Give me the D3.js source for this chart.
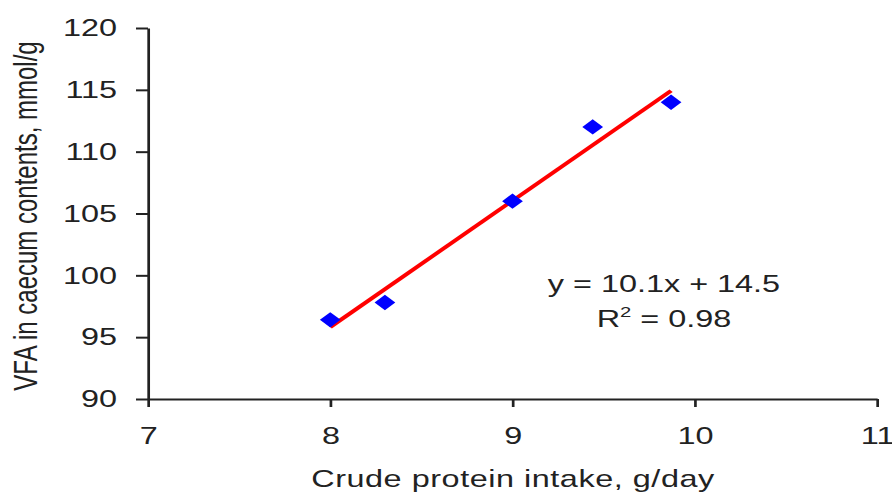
<!DOCTYPE html>
<html>
<head>
<meta charset="utf-8">
<script src="https://cdn.jsdelivr.net/npm/d3@7"></script>
<style>
  body { margin: 0; background: #fff; }
  text { font-family: "Liberation Sans", Arial, sans-serif; fill: #222; }
</style>
</head>
<body>
<div id="chart"></div>
<script>
// data
var cpIntake = [8.0, 8.3, 9.0, 9.44, 9.87];      // crude protein intake, g/day
var vfaConc = [96.4, 97.8, 106.0, 112.0, 114.0];  // VFA in caecum, mmol/g
var xTicks = [7, 8, 9, 10, 11];
var yTicks = [90, 95, 100, 105, 110, 115, 120];
var eqLabel = "y = 10.1x + 14.5";
var r2Label = "0.98";

var svgWidth = 892;
var svgHeight = 492;
// the original picture is stretched sideways, so draw everything in a squeezed group
var sx = 1.35;

var svg = d3.select("#chart")
  .append("svg")
  .attr("width", svgWidth)
  .attr("height", svgHeight);

var chartGroup = svg.append("g")
  .attr("transform", `scale(${sx}, 1)`);

// scales (screen positions divided by sx for x)
var xScale = d3.scaleLinear()
  .domain([7, 11])
  .range([148 / sx, 877 / sx]);

var yScale = d3.scaleLinear()
  .domain([90, 120])
  .range([399, 28]);

var bottomAxis = d3.axisBottom(xScale)
  .tickValues(xTicks)
  .tickSizeInner(8)
  .tickSizeOuter(0)
  .tickPadding(20)
  .tickFormat(d3.format("d"));

var leftAxis = d3.axisLeft(yScale)
  .tickValues(yTicks)
  .tickSizeInner(12 / sx)
  .tickSizeOuter(0)
  .tickPadding(19 / sx)
  .tickFormat(d3.format("d"));

var xAxis = chartGroup.append("g")
  .attr("transform", `translate(0, ${yScale(90)})`)
  .call(bottomAxis);

var yAxis = chartGroup.append("g")
  .attr("transform", `translate(${xScale(7)}, 0)`)
  .call(leftAxis);

[xAxis, yAxis].forEach(function (ax) {
  ax.select(".domain").attr("stroke", "#222").attr("stroke-width", 2);
  ax.selectAll(".tick line").attr("stroke", "#222").attr("stroke-width", 2);
  ax.selectAll(".tick text")
    .attr("font-size", 24)
    .attr("fill", "#222")
    .style("font-family", "'Liberation Sans', Arial, sans-serif");
});

// least squares trendline
var mx = d3.mean(cpIntake), my = d3.mean(vfaConc);
var sxy = d3.sum(cpIntake, (x, i) => (x - mx) * (vfaConc[i] - my));
var sxx = d3.sum(cpIntake, x => (x - mx) * (x - mx));
var slope = sxy / sxx;
var intercept = my - slope * mx;
var xExt = d3.extent(cpIntake);

chartGroup.append("line")
  .attr("x1", xScale(xExt[0]))
  .attr("y1", yScale(slope * xExt[0] + intercept))
  .attr("x2", xScale(xExt[1]))
  .attr("y2", yScale(slope * xExt[1] + intercept))
  .attr("stroke", "#ff0000")
  .attr("stroke-width", 3.5);

// diamond markers
var diamond = d3.symbol().type(d3.symbolSquare).size(118);
chartGroup.selectAll(".pt")
  .data(cpIntake)
  .enter()
  .append("path")
  .attr("class", "pt")
  .attr("d", diamond)
  .attr("transform", (d, i) => `translate(${xScale(d)}, ${yScale(vfaConc[i])}) rotate(45)`)
  .attr("fill", "#0000ff");

// equation text
chartGroup.append("text")
  .attr("x", 664 / sx)
  .attr("y", 292)
  .attr("text-anchor", "middle")
  .attr("font-size", 24)
  .text(eqLabel);

var r2 = chartGroup.append("text")
  .attr("x", 664 / sx)
  .attr("y", 327)
  .attr("text-anchor", "middle")
  .attr("font-size", 24);
r2.append("tspan").text("R");
r2.append("tspan").attr("font-size", 15).attr("dy", -10).text("2");
r2.append("tspan").attr("dy", 10).text(" = " + r2Label);

// axis titles
chartGroup.append("text")
  .attr("x", 513 / sx)
  .attr("y", 487)
  .attr("text-anchor", "middle")
  .attr("font-size", 24)
  .attr("letter-spacing", 0.4)
  .text("Crude protein intake, g/day");

chartGroup.append("text")
  .attr("transform", `translate(${37 / sx}, 216) rotate(-90)`)
  .attr("text-anchor", "middle")
  .attr("font-size", 24)
  .text("VFA in caecum contents, mmol/g");
</script>
</body>
</html>
